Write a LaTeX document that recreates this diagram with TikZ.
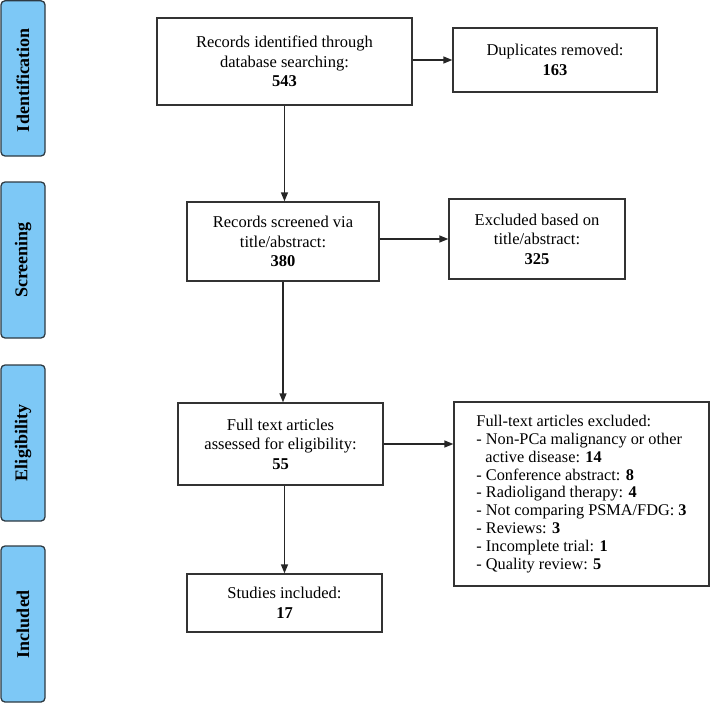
\documentclass[tikz,border=0pt]{standalone}
\usepackage{fontspec}
\setmainfont{Liberation Serif}
\usetikzlibrary{arrows.meta}
\definecolor{tabfill}{HTML}{7DC8F6}
\definecolor{tabline}{HTML}{2E3A42}
\definecolor{boxline}{HTML}{333333}
\tikzset{
  flowbox/.style={draw=boxline, line width=1.3pt, fill=white, align=center,
    inner sep=0pt, font=\fontsize{16.5}{19.5}\selectfont},
  tabbox/.style={draw=tabline, line width=1.3pt, fill=tabfill, rounded corners=4pt},
  tablabel/.style={rotate=90, font=\bfseries\fontsize{18}{20}\selectfont},
  flowarrow/.style={draw=black!85, line width=1.3pt, -{Triangle[length=9pt,width=7pt]}}
}
\begin{document}
\begin{tikzpicture}[x=1pt,y=-1pt]
\useasboundingbox (0,0) rectangle (710,704);
% side tabs
\draw[tabbox] (1,0.8) rectangle (45,156);
\node[tablabel] (tid) at (23,80) {Identification};
\draw[tabbox] (1,182) rectangle (45,338);
\node[tablabel] (tsc) at (23,260) {Screening};
\draw[tabbox] (1,365) rectangle (45,521);
\node[tablabel] (tel) at (23,443) {Eligibility};
\draw[tabbox] (1,546) rectangle (45,702);
\node[tablabel] (tin) at (23,624) {Included};
% boxes
\node[flowbox, minimum width=255pt, minimum height=87pt] (rec) at (284.5,61.5)
  {Records identified through\\database searching:\\\textbf{543}};
\node[flowbox, minimum width=204pt, minimum height=64pt] (dup) at (555,60)
  {Duplicates removed:\\\textbf{163}};
\node[flowbox, minimum width=192pt, minimum height=79pt] (scr) at (283,241.5)
  {Records screened via\\title/abstract:\\\textbf{380}};
\node[flowbox, minimum width=176pt, minimum height=80pt] (exc) at (537,239)
  {Excluded based on\\title/abstract:\\\textbf{325}};
\node[flowbox, minimum width=205pt, minimum height=82pt] (ft) at (280.5,444)
  {Full text articles\\assessed for eligibility:\\\textbf{55}};
\node[flowbox, minimum width=255pt, minimum height=184pt, align=left,
  font=\fontsize{16.3}{17.9}\selectfont] (ftex) at (581.5,494)
  {Full-text articles excluded:\\
   - Non-PCa malignancy or other\\
   \hspace*{9pt}active disease: \textbf{14}\\
   - Conference abstract: \textbf{8}\\
   - Radioligand therapy: \textbf{4}\\
   - Not comparing PSMA/FDG: \textbf{3}\\
   - Reviews: \textbf{3}\\
   - Incomplete trial: \textbf{1}\\
   - Quality review: \textbf{5}};
\node[flowbox, minimum width=195pt, minimum height=58pt] (stud) at (284.5,603)
  {Studies included:\\\textbf{17}};
% connectors
\draw[flowarrow] (rec.east |- dup.west) -- (dup.west);
\draw[flowarrow] (rec.south) -- (rec.south |- scr.north);
\draw[flowarrow] (scr.east |- exc.west) -- (exc.west);
\draw[flowarrow] (scr.south) -- (scr.south |- ft.north);
\draw[flowarrow] (ft.east) -- (ft.east -| ftex.west);
\draw[flowarrow] (ft.south -| stud.north) -- (stud.north);
\end{tikzpicture}
\end{document}
